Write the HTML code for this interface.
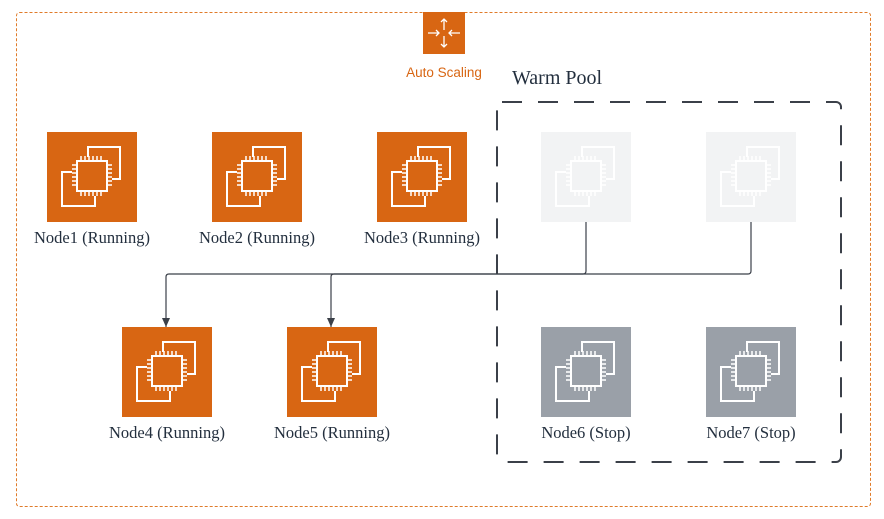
<!DOCTYPE html>
<html><head><meta charset="utf-8"><style>
body{margin:0;background:#fff;width:884px;height:519px;overflow:hidden}
svg{display:block}
text{font-family:"Liberation Serif",serif;font-size:16.5px;fill:#232f3e}
</style></head><body>
<svg width="884" height="519" viewBox="0 0 884 519">
<defs>
<g id="chip">
 <path d="M41 25 V15 H73 V47 H65" fill="none" stroke="#fff" stroke-width="2"/>
 <path d="M25 40 H15 V74 H48 V64" fill="none" stroke="#fff" stroke-width="2"/>
 <rect x="30" y="29" width="30" height="30" fill="none" stroke="#fff" stroke-width="2"/>
 <path d="M34 24v5M38 24v5M42 24v5M46 24v5M50 24v5M54 24v5M34 59v5M38 59v5M42 59v5M46 59v5M50 59v5M54 59v5M25 33h5M25 37h5M25 41h5M25 45h5M25 49h5M25 53h5M60 33h5M60 37h5M60 41h5M60 45h5M60 49h5M60 53h5" stroke="#fff" stroke-width="1.5"/>
</g>
<marker id="ah" markerWidth="10" markerHeight="10" refX="9" refY="5" orient="auto" markerUnits="userSpaceOnUse"><path d="M0 1 L9 5 L0 9 Z" fill="#3b4049"/></marker>
</defs>
<rect x="16.5" y="12.5" width="854" height="494" rx="3" fill="none" stroke="#e07b2a" stroke-width="1" stroke-dasharray="3 2"/>
<rect x="423" y="12" width="42" height="42" fill="#d86613"/>
<g stroke="#fff" stroke-width="1.3" fill="none">
<path d="M444 19v11M441 22l3-3 3 3M444 36v11M441 44l3 3 3-3M428 33h11M436 30l3 3-3 3M460 33h-11M452 30l-3 3 3 3"/>
</g>
<text x="444" y="77" text-anchor="middle" style="font-family:'Liberation Sans',sans-serif;font-size:13.5px;fill:#d86613">Auto Scaling</text>
<text x="512" y="84" style="font-size:20px">Warm Pool</text>
<rect x="497" y="102" width="344" height="360" rx="5" fill="none" stroke="#3b4049" stroke-width="2" stroke-dasharray="20 16"/>

<g transform="translate(47,132)"><rect width="90" height="90" fill="#d86613"/><use href="#chip"/></g>
<g transform="translate(212,132)"><rect width="90" height="90" fill="#d86613"/><use href="#chip"/></g>
<g transform="translate(377,132)"><rect width="90" height="90" fill="#d86613"/><use href="#chip"/></g>
<g transform="translate(541,132)"><rect width="90" height="90" fill="#f2f3f4"/><use href="#chip"/></g>
<g transform="translate(706,132)"><rect width="90" height="90" fill="#f2f3f4"/><use href="#chip"/></g>
<g transform="translate(122,327)"><rect width="90" height="90" fill="#d86613"/><use href="#chip"/></g>
<g transform="translate(287,327)"><rect width="90" height="90" fill="#d86613"/><use href="#chip"/></g>
<g transform="translate(541,327)"><rect width="90" height="90" fill="#9aa0a8"/><use href="#chip"/></g>
<g transform="translate(706,327)"><rect width="90" height="90" fill="#9aa0a8"/><use href="#chip"/></g>

<text x="92" y="243" text-anchor="middle">Node1 (Running)</text>
<text x="257" y="243" text-anchor="middle">Node2 (Running)</text>
<text x="422" y="243" text-anchor="middle">Node3 (Running)</text>
<text x="167" y="438" text-anchor="middle">Node4 (Running)</text>
<text x="332" y="438" text-anchor="middle">Node5 (Running)</text>
<text x="586" y="438" text-anchor="middle">Node6 (Stop)</text>
<text x="751" y="438" text-anchor="middle">Node7 (Stop)</text>

<path d="M586 222 V271 q0 3 -3 3 H169 q-3 0 -3 3 V327" fill="none" stroke="#3b4049" stroke-width="1.2" marker-end="url(#ah)"/>
<path d="M751 222 V271 q0 3 -3 3 H334 q-3 0 -3 3 V327" fill="none" stroke="#3b4049" stroke-width="1.2" marker-end="url(#ah)"/>
</svg>
</body></html>
